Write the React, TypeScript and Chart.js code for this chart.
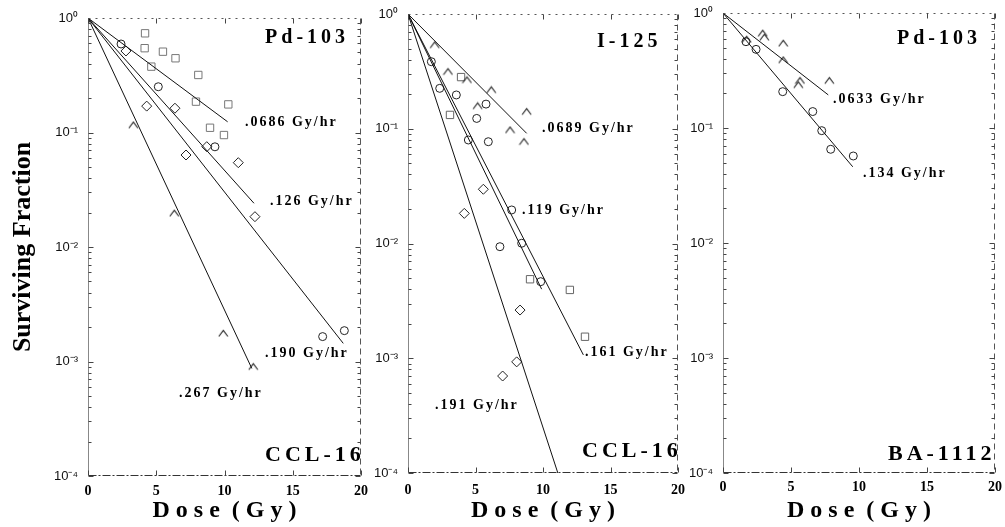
import React, { useEffect, useRef } from "react";
import { Chart, registerables } from "chart.js";

Chart.register(...registerables);

// ---------- shared axis data ----------
const DOSE_TICKS = [0, 5, 10, 15, 20];
const SF_TICKS = [0.0001, 0.001, 0.01, 0.1, 1];
const SF_TICK_LABELS = ["10\u207B\u2074", "10\u207B\u00B3", "10\u207B\u00B2", "10\u207B\u00B9", "10\u2070"];
const X_TITLE = "D o s e  ( G y )";
const Y_TITLE = "Surviving Fraction";

// ---------- Panel A: CCL-16, Pd-103 ----------
const a0686Dose = [4.18, 4.15, 5.49, 6.41, 4.64, 8.08, 7.91, 10.28, 8.94, 9.96];
const a0686SF = [0.735, 0.545, 0.508, 0.445, 0.376, 0.318, 0.186, 0.176, 0.11, 0.095];
const a126Dose = [2.78, 4.3, 6.37, 8.7, 7.18, 11.01, 12.23];
const a126SF = [0.515, 0.17, 0.163, 0.0752, 0.0636, 0.0545, 0.0184];
const a190Dose = [2.42, 5.15, 9.3, 17.19, 18.78];
const a190SF = [0.593, 0.251, 0.075, 0.00165, 0.00186];
const a267Dose = [3.32, 6.32, 9.91, 12.11];
const a267SF = [0.116, 0.0197, 0.00176, 0.0009];
const aFitEndDose = [10.23, 12.16, 18.7, 12.0];
const aFitEndSF = [0.124, 0.0241, 0.00144, 0.00087];
const aLabelText = ["Pd-103", ".0686 Gy/hr", ".126 Gy/hr", ".190 Gy/hr", ".267 Gy/hr", "CCL-16"];
const aLabelDose = [12.97, 11.5, 13.33, 12.97, 6.67, 12.97];
const aLabelSF = [0.668, 0.1236, 0.0249, 0.001186, 0.000531, 0.000152];

// ---------- Panel B: CCL-16, I-125 ----------
const b0689Dose = [1.98, 2.96, 4.37, 6.17, 5.16, 8.79, 7.56, 8.59];
const b0689SF = [0.537, 0.314, 0.266, 0.218, 0.158, 0.141, 0.0975, 0.0771];
const b119Dose = [1.73, 2.35, 3.58, 5.78, 5.09, 4.47, 5.95, 7.68, 6.81, 8.42, 9.83];
const b119SF = [0.384, 0.225, 0.197, 0.164, 0.123, 0.0798, 0.0771, 0.0196, 0.00938, 0.01005, 0.00465];
const b161Dose = [3.93, 3.11, 9.04, 11.99, 13.11];
const b161SF = [0.282, 0.132, 0.00488, 0.00394, 0.00154];
const b191Dose = [5.58, 4.17, 8.3, 8.05, 7.01];
const b191SF = [0.0297, 0.0183, 0.00263, 0.00093, 0.0007];
const bFitEndDose = [8.79, 9.9, 12.99, 11.1];
const bFitEndSF = [0.0912, 0.004, 0.00107, 0.0001];
const bLabelText = ["I-125", ".0689 Gy/hr", ".119 Gy/hr", ".161 Gy/hr", ".191 Gy/hr", "CCL-16"];
const bLabelDose = [14.0, 9.93, 8.44, 13.11, 2.0, 12.89];
const bLabelSF = [0.57, 0.1016, 0.0196, 0.00113, 0.000392, 0.000156];

// ---------- Panel C: BA-1112, Pd-103 ----------
const c0633Dose = [1.74, 2.92, 3.04, 4.43, 4.43, 5.66, 5.54, 7.82];
const c0633SF = [0.59, 0.666, 0.615, 0.545, 0.39, 0.258, 0.237, 0.258];
const c134Dose = [1.69, 2.43, 4.39, 6.6, 7.26, 7.92, 9.58];
const c134SF = [0.563, 0.483, 0.207, 0.139, 0.0948, 0.0653, 0.0571];
const cFitEndDose = [7.74, 9.54];
const cFitEndSF = [0.194, 0.046];
const cLabelText = ["Pd-103", ".0633 Gy/hr", ".134 Gy/hr", "BA-1112"];
const cLabelDose = [12.79, 8.09, 10.29, 12.13];
const cLabelSF = [0.594, 0.1786, 0.0406, 0.000146];

type Marker = "square" | "diamond" | "circle" | "caret";
type Series = { dose: number[]; sf: number[]; marker: Marker; color: string };
type Panel = {
  left: number;
  width: number;
  yAxisWidth: number;
  padTop: number;
  padRight: number;
  xAxisHeight: number;
  xTickPad: number;
  showYTitle: boolean;
  series: Series[];
  fitDose: number[];
  fitSF: number[];
  labelText: string[];
  labelDose: number[];
  labelSF: number[];
};

const PANELS: Panel[] = [
  {
    left: 0, width: 372, yAxisWidth: 88, padTop: 18, padRight: 11, xAxisHeight: 51, xTickPad: 7, showYTitle: true,
    series: [
      { dose: a0686Dose, sf: a0686SF, marker: "square", color: "#777" },
      { dose: a126Dose, sf: a126SF, marker: "diamond", color: "#222" },
      { dose: a190Dose, sf: a190SF, marker: "circle", color: "#222" },
      { dose: a267Dose, sf: a267SF, marker: "caret", color: "#222" },
    ],
    fitDose: aFitEndDose, fitSF: aFitEndSF,
    labelText: aLabelText, labelDose: aLabelDose, labelSF: aLabelSF,
  },
  {
    left: 360, width: 330, yAxisWidth: 48, padTop: 14, padRight: 12, xAxisHeight: 54, xTickPad: 9, showYTitle: false,
    series: [
      { dose: b0689Dose, sf: b0689SF, marker: "caret", color: "#222" },
      { dose: b119Dose, sf: b119SF, marker: "circle", color: "#222" },
      { dose: b161Dose, sf: b161SF, marker: "square", color: "#666" },
      { dose: b191Dose, sf: b191SF, marker: "diamond", color: "#222" },
    ],
    fitDose: bFitEndDose, fitSF: bFitEndSF,
    labelText: bLabelText, labelDose: bLabelDose, labelSF: bLabelSF,
  },
  {
    left: 675, width: 330, yAxisWidth: 48, padTop: 13, padRight: 10, xAxisHeight: 54, xTickPad: 6, showYTitle: false,
    series: [
      { dose: c0633Dose, sf: c0633SF, marker: "caret", color: "#222" },
      { dose: c134Dose, sf: c134SF, marker: "circle", color: "#222" },
    ],
    fitDose: cFitEndDose, fitSF: cFitEndSF,
    labelText: cLabelText, labelDose: cLabelDose, labelSF: cLabelSF,
  },
];

const SERIF = '"Liberation Serif", "Times New Roman", serif';
const SANS = '"Liberation Sans", Arial, sans-serif';

function makeCaret(color: string): HTMLCanvasElement {
  const c = document.createElement("canvas");
  c.width = 11;
  c.height = 9;
  const g = c.getContext("2d")!;
  g.strokeStyle = color;
  g.lineWidth = 1.1;
  g.beginPath();
  g.moveTo(1, 7.5);
  g.lineTo(5.5, 1.5);
  g.lineTo(10, 7.5);
  g.stroke();
  return c;
}

const framePlugin = {
  id: "frame",
  afterDraw(chart: any) {
    const { ctx, chartArea: a } = chart;
    const xs = chart.scales.x;
    const ys = chart.scales.y;
    const L = Math.round(a.left) + 0.5;
    const R = Math.round(a.right) - 0.5;
    const T = Math.round(a.top) + 0.5;
    const B = Math.round(a.bottom) - 0.5;
    const seg = (x1: number, y1: number, x2: number, y2: number, dash: number[], color: string) => {
      ctx.beginPath();
      ctx.setLineDash(dash);
      ctx.strokeStyle = color;
      ctx.moveTo(x1, y1);
      ctx.lineTo(x2, y2);
      ctx.stroke();
    };
    ctx.save();
    ctx.lineWidth = 1;
    seg(L, T, L, B, [], "#888");
    seg(L, B, R, B, [8, 2, 2, 2], "#333");
    seg(L, T, R, T, [2, 5], "#555");
    seg(R, T, R, B, [6, 4], "#555");
    for (let d = -4; d < 0; d++) {
      for (let m = 1; m <= 9; m++) {
        const v = m * Math.pow(10, d);
        const py = Math.round(ys.getPixelForValue(v)) + 0.5;
        const len = m === 1 ? 5 : 3;
        seg(L, py, L + len, py, [], "#444");
        seg(R - len, py, R, py, [], "#444");
      }
    }
    DOSE_TICKS.forEach((v) => {
      const px = Math.round(xs.getPixelForValue(v)) + 0.5;
      seg(px, B - 5, px, B, [], "#444");
      seg(px, T, px, T + 5, [], "#444");
    });
    ctx.restore();
  },
};

function buildChart(canvas: HTMLCanvasElement, p: Panel, carets: Record<string, HTMLCanvasElement>) {
  const datasets: any[] = [];
  p.fitDose.forEach((d, i) => {
    datasets.push({
      type: "line",
      data: [
        { x: 0, y: 1 },
        { x: d, y: p.fitSF[i] },
      ],
      borderColor: "#111",
      borderWidth: 1,
      pointRadius: 0,
      fill: false,
      tension: 0,
    });
  });
  p.series.forEach((s) => {
    const style =
      s.marker === "square" ? "rect" : s.marker === "diamond" ? "rectRot" : s.marker === "circle" ? "circle" : carets[s.color];
    const radius = s.marker === "square" ? 5.2 : s.marker === "diamond" ? 5 : 4;
    datasets.push({
      type: "scatter",
      data: s.dose.map((d, i) => ({ x: d, y: s.sf[i] })),
      pointStyle: style,
      pointRadius: radius,
      pointBorderWidth: 1,
      pointBorderColor: s.color,
      pointBackgroundColor: "rgba(255,255,255,0)",
      showLine: false,
    });
  });

  const textPlugin = {
    id: "panelText",
    afterDatasetsDraw(chart: any) {
      const { ctx } = chart;
      const xs = chart.scales.x;
      const ys = chart.scales.y;
      ctx.save();
      ctx.fillStyle = "#000";
      ctx.textAlign = "left";
      ctx.textBaseline = "middle";
      p.labelText.forEach((t, i) => {
        const isRate = t.indexOf("Gy/hr") >= 0;
        const isCell = t === "CCL-16" || t === "BA-1112";
        const size = isRate ? 14 : isCell ? 22 : 20;
        ctx.font = `bold ${size}px ${SERIF}`;
        (ctx as any).letterSpacing = isRate ? "2px" : "4px";
        ctx.fillText(t, xs.getPixelForValue(p.labelDose[i]), ys.getPixelForValue(p.labelSF[i]));
      });
      (ctx as any).letterSpacing = "0px";
      ctx.restore();
    },
  };

  const zeroPad = (s: any) => {
    s.paddingLeft = 0;
    s.paddingRight = 0;
    s.paddingTop = 0;
    s.paddingBottom = 0;
  };

  return new Chart(canvas, {
    type: "scatter",
    data: { datasets },
    options: {
      animation: false,
      responsive: false,
      devicePixelRatio: 1,
      layout: { autoPadding: false, padding: { top: p.padTop, right: p.padRight, left: 0, bottom: 0 } },
      plugins: { legend: { display: false }, tooltip: { enabled: false } },
      scales: {
        x: {
          type: "linear",
          min: 0,
          max: 20,
          grid: { display: false, drawTicks: false },
          border: { display: false },
          afterBuildTicks: (s: any) => {
            s.ticks = DOSE_TICKS.map((v) => ({ value: v }));
          },
          ticks: {
            font: { family: SERIF, weight: "bold", size: 14 },
            color: "#000",
            padding: p.xTickPad,
            maxRotation: 0,
            autoSkip: false,
          },
          title: {
            display: true,
            text: X_TITLE,
            color: "#000",
            font: { family: SERIF, weight: "bold", size: 24 },
            padding: { top: 0, bottom: 2 },
          },
          afterFit: (s: any) => {
            s.height = p.xAxisHeight;
            zeroPad(s);
          },
        },
        y: {
          type: "logarithmic",
          min: 0.0001,
          max: 1,
          grid: { display: false, drawTicks: false },
          border: { display: false },
          afterBuildTicks: (s: any) => {
            s.ticks = SF_TICKS.map((v) => ({ value: v }));
          },
          ticks: {
            font: { family: SANS, size: 13 },
            color: "#111",
            padding: 10,
            autoSkip: false,
            callback: (v: any) => {
              const idx = SF_TICKS.findIndex((t) => Math.abs(Math.log10(t) - Math.log10(Number(v))) < 1e-6);
              return idx >= 0 ? SF_TICK_LABELS[idx] : "";
            },
          },
          title: {
            display: p.showYTitle,
            text: Y_TITLE,
            color: "#000",
            font: { family: SERIF, weight: "bold", size: 26 },
            padding: { top: 8, bottom: 0 },
          },
          afterFit: (s: any) => {
            s.width = p.yAxisWidth;
            zeroPad(s);
          },
        },
      },
    } as any,
    plugins: [framePlugin, textPlugin],
  });
}

export default function App() {
  const r0 = useRef<HTMLCanvasElement>(null);
  const r1 = useRef<HTMLCanvasElement>(null);
  const r2 = useRef<HTMLCanvasElement>(null);
  const refs = [r0, r1, r2];

  useEffect(() => {
    const carets: Record<string, HTMLCanvasElement> = {
      "#222": makeCaret("#222"),
      "#666": makeCaret("#666"),
      "#777": makeCaret("#777"),
    };
    const charts = PANELS.map((p, i) => buildChart(refs[i].current!, p, carets));
    return () => charts.forEach((c) => c.destroy());
  }, []);

  return (
    <div
      style={{
        position: "fixed",
        left: 0,
        top: 0,
        width: 1005,
        height: 527,
        background: "#fff",
        overflow: "hidden",
      }}
    >
      {PANELS.map((p, i) => (
        <canvas
          key={i}
          ref={refs[i]}
          width={p.width}
          height={527}
          style={{ position: "absolute", left: p.left, top: 0, width: p.width, height: 527 }}
        />
      ))}
    </div>
  );
}
